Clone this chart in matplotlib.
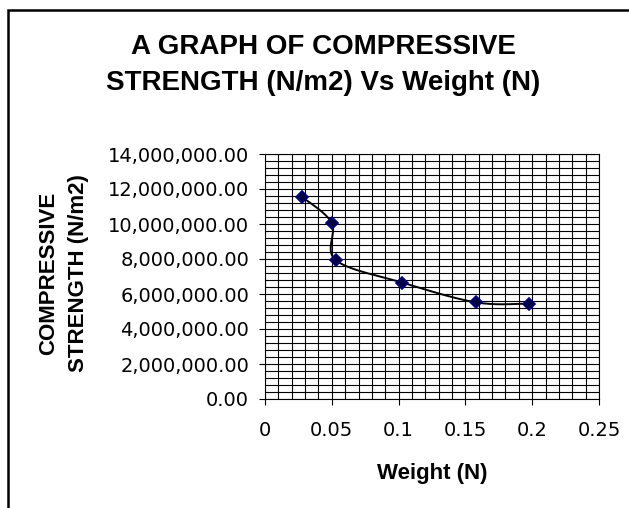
import numpy as np
import matplotlib.pyplot as plt
from matplotlib.patches import Rectangle
from matplotlib.ticker import MultipleLocator, FuncFormatter

# DATOS
weight = [0.0275, 0.0499, 0.0529, 0.1028, 0.158, 0.1976]
strength = [11560000, 10070000, 7940000, 6650000, 5520000, 5450000]

title = "A GRAPH OF COMPRESSIVE\nSTRENGTH (N/m2) Vs Weight (N)"
xlabel = "Weight (N)"
ylabel = "COMPRESSIVE\nSTRENGTH (N/m2)"

xlim = (0, 0.25)
ylim = (0, 14000000)

plt.rcParams['font.family'] = ['Liberation Sans', 'DejaVu Sans']


def smooth(x, y, n=30):
    # curva suavizada tipo Excel (Bezier con tangentes Catmull-Rom, en espacio normalizado)
    x = np.asarray(x, float)
    y = np.asarray(y, float)
    sx = (xlim[1] - xlim[0]) / 334.0
    sy = (ylim[1] - ylim[0]) / 245.0
    p = np.column_stack([x / sx, y / sy])
    out = []
    for i in range(len(p) - 1):
        p0 = p[i - 1] if i > 0 else p[i]
        p3 = p[i + 2] if i + 2 < len(p) else p[i + 1]
        c1 = p[i] + (p[i + 1] - p0) / 6
        c2 = p[i + 1] - (p3 - p[i]) / 6
        t = np.linspace(0, 1, n)[:, None]
        b = ((1 - t) ** 3) * p[i] + 3 * ((1 - t) ** 2) * t * c1 + 3 * (1 - t) * t ** 2 * c2 + t ** 3 * p[i + 1]
        out.append(b if i == 0 else b[1:])
    out = np.vstack(out)
    return out[:, 0] * sx, out[:, 1] * sy


fig = plt.figure(figsize=(6.29, 5.08), dpi=100)
fig.patches.append(Rectangle((8 / 629, -0.1), 1.0, 1 - 10 / 508 + 0.1, transform=fig.transFigure,
                             fill=False, edgecolor="black", linewidth=1.8))

ax = fig.add_axes([265 / 629, 109 / 508, 334 / 629, 245 / 508])

xs, ys = smooth(weight, strength)
ax.plot(xs, ys, color="black", linewidth=1.4, zorder=3)
ax.plot(weight, strength, linestyle="none", marker="D", markersize=6.5,
        markerfacecolor="#000040", markeredgecolor="#000080", markeredgewidth=1.2, zorder=4)

ax.set_xlim(xlim)
ax.set_ylim(ylim)
ax.xaxis.set_major_locator(MultipleLocator(0.05))
ax.xaxis.set_minor_locator(MultipleLocator(0.01))
ax.yaxis.set_major_locator(MultipleLocator(2000000))
ax.yaxis.set_minor_locator(MultipleLocator(400000))
ax.xaxis.set_major_formatter(FuncFormatter(lambda v, p: "%g" % round(v, 4)))
ax.yaxis.set_major_formatter(FuncFormatter(lambda v, p: "{:,.2f}".format(v)))

ax.grid(which="both", color="black", linewidth=0.8)
ax.set_axisbelow(True)
for s in ax.spines.values():
    s.set_color("black")
    s.set_linewidth(0.8)

ax.tick_params(which="major", direction="out", length=4.5, width=0.8, labelsize=14)
ax.tick_params(axis="y", pad=7)
ax.tick_params(axis="x", pad=11)
ax.tick_params(which="minor", length=0)
for lab in ax.get_xticklabels() + ax.get_yticklabels():
    lab.set_family("DejaVu Sans")

fig.text(432 / 629, 1 - 473 / 508, xlabel, ha="center", va="center", fontsize=16, fontweight="bold")
fig.text(64 / 629, 1 - 273 / 508, ylabel, ha="center", va="center", rotation=90, fontsize=16,
         fontweight="bold", linespacing=1.55)
fig.text(323 / 629, 1 - 65 / 508, title, ha="center", va="center", fontsize=20,
         fontweight="bold", linespacing=1.5)

plt.savefig("out.png", dpi=100)
